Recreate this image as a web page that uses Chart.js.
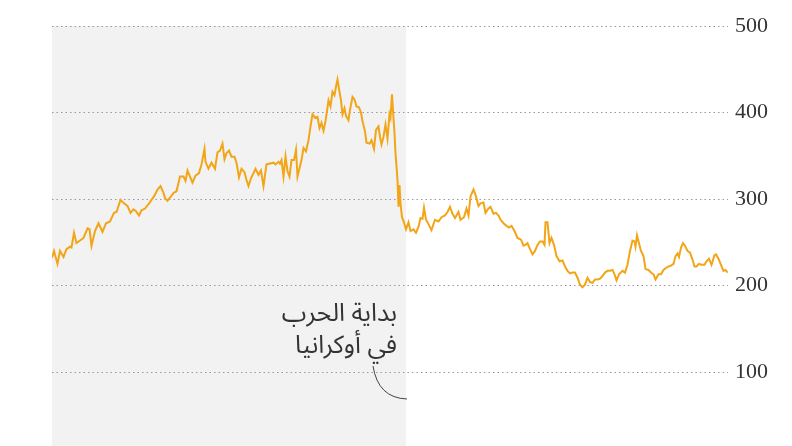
<!DOCTYPE html>
<html>
<head>
<meta charset="utf-8">
<script src="https://cdn.jsdelivr.net/npm/chart.js@4.4.1/dist/chart.umd.min.js"></script>
<style>
  html, body { margin: 0; padding: 0; background: #fff; }
  #wrap { position: relative; width: 792px; height: 446px; }
</style>
</head>
<body>
<div id="wrap"><canvas id="c" width="792" height="446"></canvas></div>
<script>
// Day offsets from the start of the series, and the price
const days = [
  0, 4, 11, 16, 23, 29, 36, 39, 44, 49, 56, 63, 71, 75, 79, 86, 93, 101, 108, 116,
  124, 129, 137, 144, 151, 157, 163, 168, 174, 179, 186, 193, 199, 204, 211, 217, 223, 226,
  231, 238, 243, 249, 256, 263, 267, 271, 276, 281, 287, 294, 299, 305, 307, 313, 319, 326,
  331, 336, 341, 345, 349, 354, 359, 365, 369, 374, 379, 385, 389, 393, 398, 403, 407, 413,
  418, 423, 429, 436, 443, 447, 453,
  456, 459, 463, 467, 471, 475, 479, 484, 488, 491, 496, 499, 503, 508, 513, 517, 521, 526,
  531, 535, 539, 543, 547, 553, 557, 561, 565, 568, 571, 575, 578, 581, 585, 588, 593, 596,
  601, 605, 609, 614, 618, 621, 626, 629, 635, 639, 644, 648, 653, 656, 659, 663, 667, 671,
  675, 677, 680, 682, 685, 687, 691, 693, 695, 697, 700, 704, 708, 713, 717, 723, 728, 733,
  737, 741, 744, 748, 753, 759, 766, 773, 779, 786, 791, 796, 801, 806, 813, 817, 824, 829,
  833, 837, 843, 848, 853, 857, 863, 867, 873, 877, 883, 888, 893, 897, 903,
  909, 914, 919, 925, 931, 938, 943, 947, 951, 956, 961, 966, 971, 976, 981, 985, 987, 991,
  995, 999, 1004, 1009, 1015, 1021, 1026, 1031, 1036, 1041, 1046, 1051, 1056, 1061, 1066,
  1071, 1076, 1081, 1086, 1091, 1096, 1101, 1106, 1111, 1116, 1121, 1125, 1129, 1134,
  1141, 1146, 1151, 1156, 1161, 1165, 1167, 1170, 1174, 1178, 1183, 1187, 1193, 1198, 1203,
  1207, 1213, 1218, 1223, 1227, 1233, 1238, 1243, 1247, 1251, 1254, 1258, 1262, 1266, 1271,
  1276, 1281, 1285, 1289, 1294, 1299, 1305, 1309, 1314, 1319, 1325, 1328, 1333, 1338, 1343,
  1347, 1351
];
const prices = [
  232, 240, 225, 240, 233, 242, 245, 244, 261, 249, 252, 255, 266, 265, 246, 263, 272, 262, 272, 274,
  284, 285, 299, 295, 292, 284, 288, 286, 281, 287, 289, 294, 299, 303, 311, 315, 307, 301,
  298, 303, 307, 309, 326, 326, 321, 333, 326, 319, 327, 330, 340, 358, 343, 335, 342, 335,
  354, 356, 364, 346, 353, 356, 349, 349, 342, 325, 335, 331, 322, 315, 324, 330, 335, 328,
  333, 315, 340, 341, 342, 340, 343,
  341, 345, 326, 349, 332, 326, 345, 345, 357, 326, 338, 345, 359, 355, 368, 384, 398, 394,
  395, 382, 388, 379, 390, 414, 407, 424, 420, 430, 438, 424, 414, 398, 405, 396, 391, 403,
  418, 415, 407, 406, 400, 390, 378, 365, 364, 368, 358, 380, 384, 372, 363, 372, 386, 370,
  398, 394, 421, 402, 376, 353, 322, 291, 316, 295, 279, 273, 265, 273, 263, 265, 261, 268,
  278, 277, 290, 276, 271, 264, 276, 274, 279, 281, 285, 291, 283, 278, 285, 276, 279, 289,
  281, 303, 311, 303, 292, 295, 296, 284, 289, 291, 283, 284, 281, 276, 272,
  269, 267, 269, 263, 255, 253, 246, 247, 249, 242, 236, 240, 247, 251, 251, 247, 273, 273,
  249, 255, 247, 234, 228, 229, 222, 217, 214, 215, 215, 209, 201, 198, 201,
  209, 204, 203, 207, 207, 208, 211, 215, 217, 217, 218, 213, 206, 213,
  217, 215, 224, 240, 252, 251, 245, 258, 249, 240, 234, 219, 218, 215, 213,
  207, 213, 213, 218, 220, 222, 223, 225, 234, 237, 233, 244, 249, 246, 240,
  238, 230, 222, 222, 225, 224, 224, 228, 231, 224, 235, 236, 231, 224, 217,
  218, 215
];
const yTicks = [100, 200, 300, 400, 500];
const WAR_DAY = 708;
const WAR_LABEL = ['بداية الحرب', 'في أوكرانيا'];

const LINE = '#f2a516';
const GRID = '#999999';
const TEXT = '#333333';

// grey band before the war, behind grid and line
const bandPlugin = {
  id: 'band',
  beforeDraw(chart) {
    const { ctx, chartArea, scales } = chart;
    const x0 = scales.x.getPixelForValue(days[0]);
    const x1 = scales.x.getPixelForValue(WAR_DAY);
    ctx.save();
    ctx.fillStyle = '#f2f2f2';
    ctx.fillRect(x0, chartArea.top, x1 - x0, chart.height - chartArea.top);
    ctx.restore();
  }
};

// label + curved pointer for the start of the war
const notePlugin = {
  id: 'note',
  afterDatasetsDraw(chart) {
    const { ctx, scales } = chart;
    const wx = scales.x.getPixelForValue(WAR_DAY);
    ctx.save();
    ctx.fillStyle = TEXT;
    ctx.font = '25px "Noto Sans Arabic", "Noto Naskh Arabic", "DejaVu Sans", sans-serif';
    ctx.direction = 'rtl';
    ctx.textAlign = 'right';
    ctx.textBaseline = 'alphabetic';
    ctx.fillText(WAR_LABEL[0], wx - 9, 321);
    ctx.fillText(WAR_LABEL[1], wx - 9, 353);
    ctx.strokeStyle = '#444';
    ctx.lineWidth = 1;
    ctx.beginPath();
    ctx.moveTo(wx - 33, 366);
    ctx.quadraticCurveTo(wx - 28, 398, wx + 1, 399);
    ctx.stroke();
    ctx.restore();
  }
};

new Chart(document.getElementById('c'), {
  type: 'line',
  data: {
    datasets: [{
      data: days.map((d, i) => ({ x: d, y: prices[i] })),
      borderColor: LINE,
      borderWidth: 2,
      pointRadius: 0,
      tension: 0,
      fill: false
    }]
  },
  options: {
    responsive: false,
    animation: false,
    layout: { padding: { left: 52, top: 26, right: 0, bottom: 0 } },
    plugins: { legend: { display: false }, tooltip: { enabled: false } },
    scales: {
      x: {
        type: 'linear',
        display: false,
        min: 0,
        max: 1352
      },
      y: {
        position: 'right',
        min: 14.5,
        max: 500,
        afterBuildTicks: (s) => { s.ticks = yTicks.map((v) => ({ value: v })); },
        afterFit: (s) => { s.width = 64; s.paddingTop = 0; s.paddingBottom = 0; },
        border: { display: false, dash: [1.5, 3] },
        grid: {
          color: GRID,
          lineWidth: 1,
          drawTicks: false
        },
        ticks: {
          padding: 7,
          color: TEXT,
          font: { family: '"Liberation Serif", serif', size: 22 }
        }
      }
    }
  },
  plugins: [bandPlugin, notePlugin]
});
</script>
</body>
</html>
